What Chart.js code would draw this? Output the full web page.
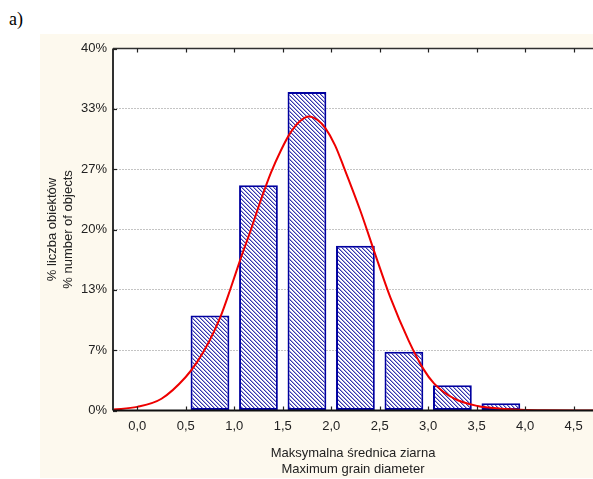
<!DOCTYPE html>
<html>
<head>
<meta charset="utf-8">
<script src="https://cdn.jsdelivr.net/npm/chart.js@4/dist/chart.umd.min.js"></script>
<style>
	html, body { margin: 0; padding: 0; background: #ffffff; overflow: hidden; }
	#label { position: absolute; left: 9px; top: 9px; font: 18px 'Liberation Serif', 'Times New Roman', serif; color: #000; }
	#panel { position: absolute; left: 40px; top: 34px; width: 553px; height: 444px; background: #fdf9ee; }
</style>
</head>
<body>
<div id="label">a)</div>
<div id="panel"><canvas id="chart"></canvas></div>
<script>
// histogram bins (class centres) and share of objects, %
const binCenters = [0.75, 1.25, 1.75, 2.25, 2.75, 3.25, 3.75];
const binPercent = [10.5, 24.9, 35.2, 18.2, 6.5, 2.8, 0.8];

// fitted curve
const curveX = [-0.25, 0.0, 0.25, 0.5, 0.62, 0.74, 0.86, 0.96, 1.07, 1.17, 1.27, 1.38, 1.48, 1.58, 1.68, 1.77,
	1.86, 1.94, 2.04, 2.13, 2.3, 2.44, 2.61, 2.8, 2.95, 3.06, 3.27, 3.51, 3.75, 3.95, 4.2, 4.7];
const curveY = [0.1, 0.4, 1.3, 3.7, 5.4, 7.6, 10.4, 13.4, 16.9, 19.9, 23.1, 26.3, 28.7, 30.7, 32.0, 32.5,
	32.1, 31.2, 29.3, 26.9, 22.1, 17.7, 12.5, 7.7, 4.6, 3.0, 1.3, 0.5, 0.2, 0.08, 0.02, 0];

const xTickValues = [0, 0.5, 1, 1.5, 2, 2.5, 3, 3.5, 4, 4.5];
const xTickLabels = ['0,0', '0,5', '1,0', '1,5', '2,0', '2,5', '3,0', '3,5', '4,0', '4,5'];
const yTickValues = [0, 6.667, 13.333, 20, 26.667, 33.333, 40];
const yTickLabels = ['0%', '7%', '13%', '20%', '27%', '33%', '40%'];

const makeHatch = () => {
	let c = document.createElement('canvas');
	c.width = 4;
	c.height = 4;
	let g = c.getContext('2d');
	g.fillStyle = '#ffffff';
	g.fillRect(0, 0, 4, 4);
	for (let i = 0; i < 4; i++) {
		g.fillStyle = '#a4a4dc';
		g.fillRect((i + 1) % 4, i, 1, 1);
		g.fillStyle = '#3434ae';
		g.fillRect(i, i, 1, 1);
	}
	return g.createPattern(c, 'repeat');
};

const frame = {
	id: 'frame',
	beforeDraw(chart) {
		const { ctx, chartArea: a } = chart;
		ctx.save();
		ctx.fillStyle = '#ffffff';
		ctx.fillRect(a.left, a.top, a.right - a.left, a.bottom - a.top);
		ctx.restore();
	},
	afterDraw(chart) {
		const { ctx, chartArea: a, scales } = chart;
		ctx.save();
		ctx.strokeStyle = '#303030';
		ctx.lineWidth = 1.5;
		ctx.beginPath();
		ctx.moveTo(a.left, a.top);
		ctx.lineTo(a.right, a.top);
		ctx.stroke();
		ctx.lineWidth = 2;
		ctx.beginPath();
		ctx.moveTo(a.left, a.top);
		ctx.lineTo(a.left, a.bottom);
		ctx.stroke();
		ctx.strokeStyle = '#101010';
		ctx.beginPath();
		ctx.moveTo(a.left, a.bottom);
		ctx.lineTo(a.right, a.bottom);
		ctx.stroke();
		ctx.lineWidth = 1.2;
		ctx.strokeStyle = '#202020';
		for (let v of xTickValues) {
			let px = Math.round(scales.x.getPixelForValue(v)) + 0.5;
			ctx.beginPath();
			ctx.moveTo(px, a.bottom);
			ctx.lineTo(px, a.bottom - 4);
			ctx.moveTo(px, a.top);
			ctx.lineTo(px, a.top + 4);
			ctx.stroke();
		}
		for (let v of yTickValues) {
			let py = Math.round(scales.y.getPixelForValue(v)) + 0.5;
			ctx.beginPath();
			ctx.moveTo(a.left, py);
			ctx.lineTo(a.left + 4, py);
			ctx.stroke();
		}
		ctx.restore();
	},
};

const font = { family: "'Liberation Sans', Arial, sans-serif", size: 13 };

new Chart(document.getElementById('chart'), {
	type: 'bar',
	data: {
		datasets: [
			{
				type: 'line',
				data: curveX.map((x, i) => ({ x: x, y: curveY[i] })),
				borderColor: '#ee0000',
				borderWidth: 2,
				pointRadius: 0,
				cubicInterpolationMode: 'monotone',
				order: 0,
			},
			{
				type: 'bar',
				data: binCenters.map((x, i) => ({ x: x, y: binPercent[i] })),
				backgroundColor: makeHatch(),
				borderColor: '#0000a0',
				borderWidth: 2,
				borderSkipped: false,
				barPercentage: 1.0,
				categoryPercentage: 0.8,
				order: 1,
			},
		],
	},
	options: {
		responsive: true,
		maintainAspectRatio: false,
		animation: false,
		layout: { padding: { top: 14.5, right: 0, left: 0, bottom: 0 } },
		plugins: { legend: { display: false }, tooltip: { enabled: false } },
		scales: {
			x: {
				type: 'linear',
				offset: false,
				min: -0.25,
				max: 4.7,
				afterBuildTicks: (s) => {
					s.ticks = xTickValues.map((v) => ({ value: v }));
				},
				afterFit: (s) => {
					s.height = 67.5;
				},
				ticks: {
					autoSkip: false,
					maxRotation: 0,
					padding: 8,
					color: '#222',
					font: font,
					callback: (v) => xTickLabels[xTickValues.indexOf(v)],
				},
				grid: { display: false, drawTicks: false, offset: false },
				border: { display: false },
				title: {
					display: true,
					text: ['Maksymalna średnica ziarna', 'Maximum grain diameter'],
					color: '#222',
					font: { family: font.family, size: 13, lineHeight: 16 / 13 },
					padding: { top: 0, bottom: 1 },
				},
			},
			y: {
				min: 0,
				max: 40,
				afterBuildTicks: (s) => {
					s.ticks = yTickValues.map((v) => ({ value: v }));
				},
				afterFit: (s) => {
					s.width = 73;
				},
				ticks: {
					padding: 6,
					color: '#222',
					font: font,
					callback: (v) => yTickLabels[yTickValues.indexOf(v)],
				},
				grid: {
					drawTicks: false,
					color: (c) => (c.tick && c.tick.value > 0 && c.tick.value < 40 ? '#c4c4c4' : 'rgba(0,0,0,0)'),
					lineWidth: 1,
				},
				border: { display: false, dash: [2, 1] },
				title: {
					display: true,
					text: ['% liczba obiektów', '% number of objects'],
					color: '#222',
					font: { family: font.family, size: 13, lineHeight: 16 / 13 },
					padding: { top: 4.5, bottom: 0 },
				},
			},
		},
	},
	plugins: [frame],
});
</script>
</body>
</html>
